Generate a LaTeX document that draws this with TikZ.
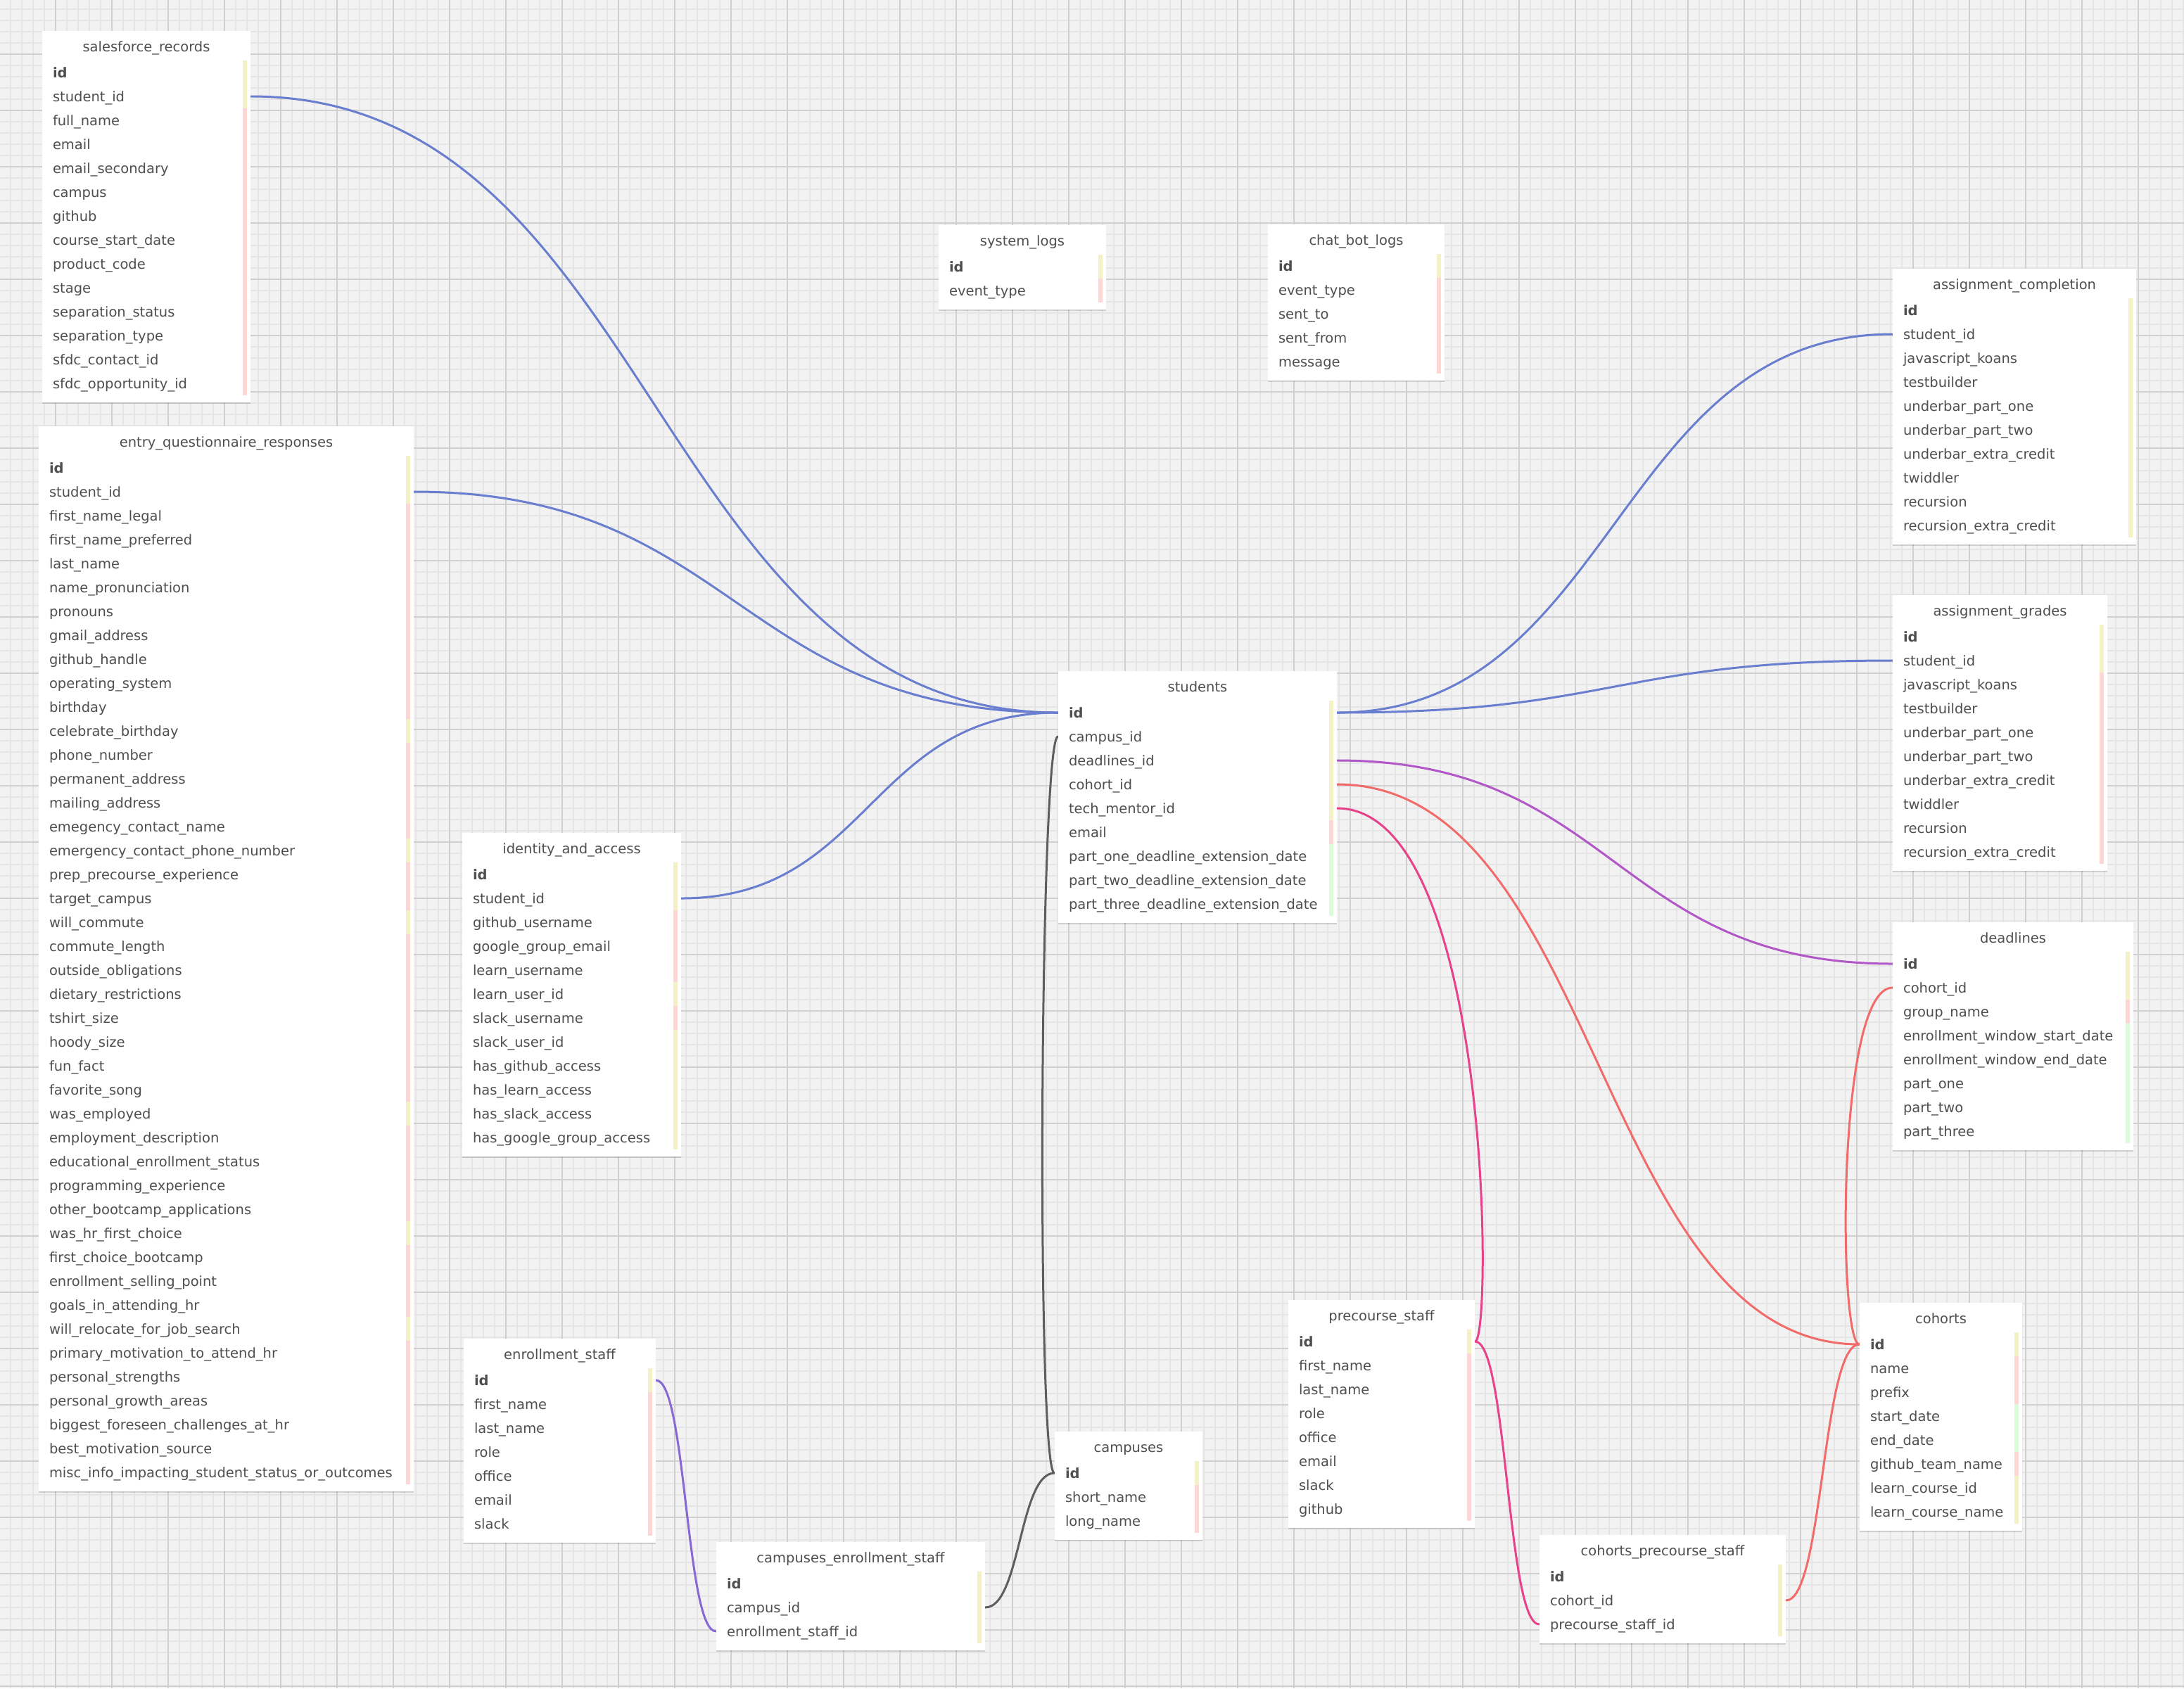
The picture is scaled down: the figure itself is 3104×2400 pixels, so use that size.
\documentclass[tikz,border=0pt]{standalone}
\usepackage{fontspec}
\setmainfont{DejaVu Sans}
\usetikzlibrary{shadows}

\definecolor{canvas}{HTML}{F2F2F2}
\definecolor{gridminor}{HTML}{E5E5E5}
\definecolor{gridmajor}{HTML}{D0D0D0}
\definecolor{txtcol}{HTML}{4F4F4F}
\definecolor{barY}{HTML}{F5F1C6}
\definecolor{barP}{HTML}{FFD6D6}
\definecolor{barG}{HTML}{DAFCDA}
\definecolor{lnblue}{HTML}{6A7ECF}
\definecolor{lnpurple}{HTML}{B257C8}
\definecolor{lnsalmon}{HTML}{F26B6B}
\definecolor{lnpink}{HTML}{E8428A}
\definecolor{lngrey}{HTML}{5E5E5E}
\definecolor{lnviolet}{HTML}{8669D4}

\pgfdeclarelayer{gridlayer}
\pgfdeclarelayer{linklayer}
\pgfsetlayers{gridlayer,linklayer,main}

\tikzset{
  tablebox/.style={fill=white, inner sep=0pt,
    drop shadow={shadow xshift=0pt, shadow yshift=-0.7pt, opacity=0.14, fill=black}},
  titletext/.style={font=\fontsize{9.75}{11}\selectfont, text=txtcol, inner sep=0pt},
  row/.style={font=\fontsize{9.75}{11}\selectfont, text=txtcol, inner xsep=7.5pt,
    inner ysep=3pt, text height=9pt, text depth=2pt, align=left},
  link/.style={line width=1.5pt, line cap=round},
}

% \erdtable{name}{left}{top}{width}{title}{colour/column, ...}
% coordinates are in pixels, y grows downwards; rows are 34px apart
\newcommand\erdtable[6]{%
  \pgfmathsetmacro\erdcx{#2+#4/2}%
  \pgfmathsetmacro\erdtw{(#4-30)*0.5}%
  \pgfmathsetmacro\erdmw{#4*0.5}%
  \gdef\erdn{0}%
  \foreach \rc/\rt in {#6} {\xdef\erdn{\the\numexpr\erdn+1\relax}}%
  \pgfmathsetmacro\erdh{(52+34*\erdn)*0.5}%
  \node[tablebox, minimum width=\erdmw pt, minimum height=\erdh pt, anchor=north west] (#1) at (#2,#3) {};%
  \node[titletext, anchor=base] (#1-title) at (\erdcx,#3+29) {#5};%
  \foreach [count=\k from 0] \rc/\rt in {#6} {%
    \node[row, text width=\erdtw pt] (#1-\rt) at (\erdcx,#3+59+34*\k) {\ifnum\k=0 \bfseries\fi\rt};%
    \fill[fill=bar\rc] ([xshift=-5.5pt]#1-\rt.north east) rectangle ([xshift=-2.5pt]#1-\rt.south east);%
  }%
}

\begin{document}
\catcode`\_=12
\begin{tikzpicture}[x=0.5pt,y=-0.5pt]
\useasboundingbox (0,0) rectangle (3104,2400);

% canvas and grid
\begin{pgfonlayer}{gridlayer}
\fill[canvas] (0,0) rectangle (3104,2400);
\foreach \gx in {15,31,...,3103} \draw[gridminor, line width=0.65pt] (\gx,0) -- (\gx,2400);
\foreach \gy in {13,29,...,2400} \draw[gridminor, line width=0.65pt] (0,\gy) -- (3104,\gy);
\foreach \gx in {79,159,...,3103} \draw[gridmajor, line width=0.9pt] (\gx,0) -- (\gx,2400);
\foreach \gy in {77,157,...,2400} \draw[gridmajor, line width=0.9pt] (0,\gy) -- (3104,\gy);
\end{pgfonlayer}

% tables
\erdtable{salesforce_records}{60}{44}{296}{salesforce_records}{Y/id, Y/student_id, P/full_name, P/email,
  P/email_secondary, P/campus, P/github, P/course_start_date, P/product_code, P/stage,
  P/separation_status, P/separation_type, P/sfdc_contact_id, P/sfdc_opportunity_id}

\erdtable{entry_questionnaire_responses}{55}{606}{533}{entry_questionnaire_responses}{Y/id, Y/student_id,
  P/first_name_legal, P/first_name_preferred, P/last_name, P/name_pronunciation, P/pronouns,
  P/gmail_address, P/github_handle, P/operating_system, P/birthday, Y/celebrate_birthday,
  P/phone_number, P/permanent_address, P/mailing_address, P/emegency_contact_name,
  Y/emergency_contact_phone_number, P/prep_precourse_experience, P/target_campus, Y/will_commute,
  P/commute_length, P/outside_obligations, P/dietary_restrictions, P/tshirt_size, P/hoody_size,
  P/fun_fact, P/favorite_song, Y/was_employed, P/employment_description,
  P/educational_enrollment_status, P/programming_experience, P/other_bootcamp_applications,
  Y/was_hr_first_choice, P/first_choice_bootcamp, P/enrollment_selling_point,
  P/goals_in_attending_hr, Y/will_relocate_for_job_search, P/primary_motivation_to_attend_hr,
  P/personal_strengths, P/personal_growth_areas, P/biggest_foreseen_challenges_at_hr,
  P/best_motivation_source, P/misc_info_impacting_student_status_or_outcomes}

\erdtable{system_logs}{1334}{320}{238}{system_logs}{Y/id, P/event_type}

\erdtable{chat_bot_logs}{1802}{319}{251}{chat_bot_logs}{Y/id, P/event_type, P/sent_to, P/sent_from, P/message}

\erdtable{assignment_completion}{2690}{382}{346}{assignment_completion}{Y/id, Y/student_id,
  Y/javascript_koans, Y/testbuilder, Y/underbar_part_one, Y/underbar_part_two,
  Y/underbar_extra_credit, Y/twiddler, Y/recursion, Y/recursion_extra_credit}

\erdtable{assignment_grades}{2690}{846}{305}{assignment_grades}{Y/id, Y/student_id,
  P/javascript_koans, P/testbuilder, P/underbar_part_one, P/underbar_part_two,
  P/underbar_extra_credit, P/twiddler, P/recursion, P/recursion_extra_credit}

\erdtable{students}{1504}{954}{396}{students}{Y/id, Y/campus_id, Y/deadlines_id, Y/cohort_id,
  Y/tech_mentor_id, P/email, G/part_one_deadline_extension_date,
  G/part_two_deadline_extension_date, G/part_three_deadline_extension_date}

\erdtable{identity_and_access}{657}{1184}{311}{identity_and_access}{Y/id, Y/student_id,
  P/github_username, P/google_group_email, P/learn_username, Y/learn_user_id, P/slack_username,
  Y/slack_user_id, Y/has_github_access, Y/has_learn_access, Y/has_slack_access,
  Y/has_google_group_access}

\erdtable{deadlines}{2690}{1311}{342}{deadlines}{Y/id, Y/cohort_id, P/group_name,
  G/enrollment_window_start_date, G/enrollment_window_end_date, G/part_one, G/part_two, G/part_three}

\erdtable{precourse_staff}{1831}{1848}{265}{precourse_staff}{Y/id, P/first_name, P/last_name,
  P/role, P/office, P/email, P/slack, P/github}

\erdtable{cohorts}{2643}{1852}{231}{cohorts}{Y/id, P/name, P/prefix, G/start_date, G/end_date,
  P/github_team_name, Y/learn_course_id, Y/learn_course_name}

\erdtable{enrollment_staff}{659}{1903}{273}{enrollment_staff}{Y/id, P/first_name, P/last_name,
  P/role, P/office, P/email, P/slack}

\erdtable{campuses}{1499}{2035}{210}{campuses}{Y/id, P/short_name, P/long_name}

\erdtable{campuses_enrollment_staff}{1018}{2192}{382}{campuses_enrollment_staff}{Y/id,
  Y/campus_id, Y/enrollment_staff_id}

\erdtable{cohorts_precourse_staff}{2188}{2182}{350}{cohorts_precourse_staff}{Y/id,
  Y/cohort_id, Y/precourse_staff_id}

% relations
\begin{pgfonlayer}{linklayer}
\draw[link, lnblue] (salesforce_records-student_id.east) .. controls +(574,0) and +(-574,0) .. (students-id.west);
\draw[link, lnblue] (entry_questionnaire_responses-student_id.east) .. controls +(458,0) and +(-458,0) .. (students-id.west);
\draw[link, lnblue] (identity_and_access-student_id.east) .. controls +(268,0) and +(-268,0) .. (students-id.west);
\draw[link, lnblue] (assignment_completion-student_id.west) .. controls +(-395,0) and +(395,0) .. (students-id.east);
\draw[link, lnblue] (assignment_grades-student_id.west) .. controls +(-395,0) and +(395,0) .. (students-id.east);
\draw[link, lnpurple] (students-deadlines_id.east) .. controls +(395,0) and +(-395,0) .. (deadlines-id.west);
\draw[link, lnsalmon] (students-cohort_id.east) .. controls +(372,0) and +(-372,0) .. (cohorts-id.west);
\draw[link, lnpink] (students-tech_mentor_id.east) .. controls +(220,0) and +(25,0) .. (precourse_staff-id.east);
\draw[link, lnpink] (precourse_staff-id.east) .. controls +(46,0) and +(-46,0) .. (cohorts_precourse_staff-precourse_staff_id.west);
\draw[link, lnsalmon] (cohorts_precourse_staff-cohort_id.east) .. controls +(53,0) and +(-53,0) .. (cohorts-id.west);
\draw[link, lnsalmon] (deadlines-cohort_id.west) .. controls +(-80,0) and +(-30,0) .. (cohorts-id.west);
\draw[link, lngrey] (students-campus_id.west) .. controls +(-26,0) and +(-26,0) .. (campuses-id.west);
\draw[link, lngrey] (campuses-id.west) .. controls +(-50,0) and +(50,0) .. (campuses_enrollment_staff-campus_id.east);
\draw[link, lnviolet] (enrollment_staff-id.east) .. controls +(43,0) and +(-43,0) .. (campuses_enrollment_staff-enrollment_staff_id.west);
\end{pgfonlayer}
\end{tikzpicture}
\end{document}
